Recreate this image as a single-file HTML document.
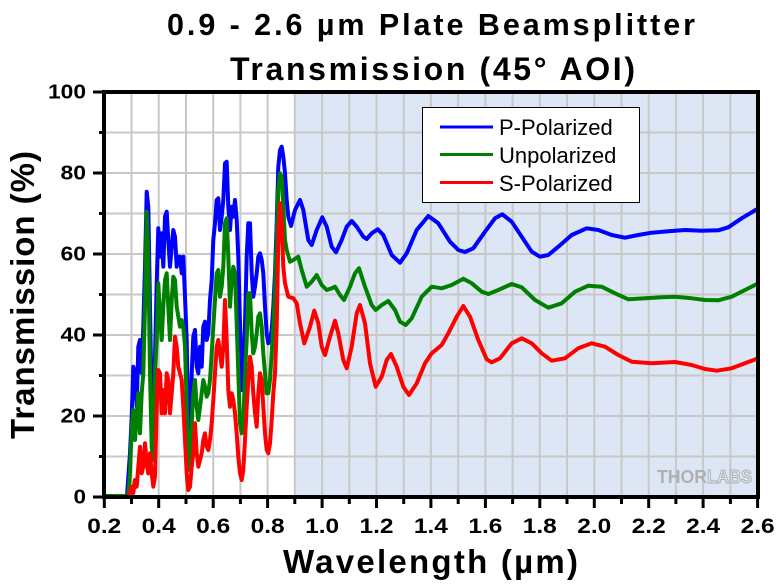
<!DOCTYPE html>
<html><head><meta charset="utf-8"><style>
html,body{margin:0;padding:0;background:#fff;}
svg{display:block;}
text{font-family:"Liberation Sans",Arial,sans-serif;}
</style></head><body>
<svg width="780" height="584" viewBox="0 0 780 584" xmlns="http://www.w3.org/2000/svg">
<defs><clipPath id="pc"><rect x="104" y="92" width="654" height="405"/></clipPath></defs>
<rect x="0" y="0" width="780" height="584" fill="#fff"/>
<rect x="294.8" y="92" width="463.2" height="405" fill="#dce6f5"/>
<g stroke="#c8c8c8" stroke-width="2">
<line x1="131.5" y1="92" x2="131.5" y2="497"/><line x1="158.7" y1="92" x2="158.7" y2="497"/><line x1="186" y1="92" x2="186" y2="497"/><line x1="213.2" y1="92" x2="213.2" y2="497"/><line x1="240.4" y1="92" x2="240.4" y2="497"/><line x1="267.6" y1="92" x2="267.6" y2="497"/><line x1="294.8" y1="92" x2="294.8" y2="497"/><line x1="322.1" y1="92" x2="322.1" y2="497"/><line x1="349.3" y1="92" x2="349.3" y2="497"/><line x1="376.5" y1="92" x2="376.5" y2="497"/><line x1="403.7" y1="92" x2="403.7" y2="497"/><line x1="430.9" y1="92" x2="430.9" y2="497"/><line x1="458.2" y1="92" x2="458.2" y2="497"/><line x1="485.4" y1="92" x2="485.4" y2="497"/><line x1="512.6" y1="92" x2="512.6" y2="497"/><line x1="539.8" y1="92" x2="539.8" y2="497"/><line x1="567" y1="92" x2="567" y2="497"/><line x1="594.3" y1="92" x2="594.3" y2="497"/><line x1="621.5" y1="92" x2="621.5" y2="497"/><line x1="648.7" y1="92" x2="648.7" y2="497"/><line x1="675.9" y1="92" x2="675.9" y2="497"/><line x1="703.1" y1="92" x2="703.1" y2="497"/><line x1="730.4" y1="92" x2="730.4" y2="497"/>
<line x1="104" y1="456.5" x2="758" y2="456.5"/><line x1="104" y1="416" x2="758" y2="416"/><line x1="104" y1="375.5" x2="758" y2="375.5"/><line x1="104" y1="335" x2="758" y2="335"/><line x1="104" y1="294.5" x2="758" y2="294.5"/><line x1="104" y1="254" x2="758" y2="254"/><line x1="104" y1="213.5" x2="758" y2="213.5"/><line x1="104" y1="173" x2="758" y2="173"/><line x1="104" y1="132.5" x2="758" y2="132.5"/>
</g>
<text x="657" y="483" font-size="18" font-weight="bold" fill="#b0b0b0" textLength="50" lengthAdjust="spacingAndGlyphs">THOR</text>
<text x="707" y="483" font-size="18" font-weight="bold" fill="none" stroke="#b0b0b0" stroke-width="1" textLength="45" lengthAdjust="spacingAndGlyphs">LABS</text>
<g clip-path="url(#pc)" fill="none" stroke-width="4" stroke-linejoin="round" stroke-linecap="round">
<path stroke="#0000ff" d="M106,496 L127,496 L130,453 L131.7,416.7 L133.3,366.7 L135,373 L136.7,406.7 L138.3,346.7 L140,340 L141.7,373 L143.3,326.7 L145,266.7 L146.7,191.7 L148.3,206.7 L150,306.7 L151.7,406.7 L153.3,423 L155,356.7 L156.7,283.3 L158.3,228.3 L160,256.7 L161.7,233.3 L163.3,266.7 L165,216.7 L166.7,211.7 L168.3,240 L170,266.7 L171.7,246.7 L173.3,230 L175,236.7 L176.7,266.7 L178.3,256.7 L180,256.7 L181.7,273.3 L183.3,256.7 L185,296.7 L186.7,340 L188.3,433.3 L190,440 L191.7,373.3 L193.3,336.7 L195,330 L196.7,366.7 L198.3,373.3 L200,346.7 L201.7,366.7 L203.3,326.7 L205,321.7 L206.7,340 L208.3,333.3 L210,300 L211.7,280 L213.3,240 L215,223.3 L216.7,200 L218.3,198.3 L220,230 L221.7,216.7 L223.3,200 L225,163.3 L226.7,161.7 L228.3,206.7 L230,230 L231.7,206.7 L233.3,216.7 L235,200 L236.7,220 L238.3,256.7 L240,323.3 L241.7,390 L243.3,373.3 L245,323.3 L246.7,256.7 L248.3,223.3 L250,223.3 L251.7,273.3 L253.3,296.7 L255,286.7 L256.7,273.3 L258.3,256.7 L260,253.3 L261.7,260 L263.3,273.3 L265,306.7 L266.7,333.3 L268.3,343.3 L270,340 L271.7,330 L273.3,306.7 L275,273.3 L276.7,223.3 L278.3,166.7 L280,150 L281.7,146.7 L283.3,156.7 L285,173.3 L286.7,200 L288.3,216.7 L291,226 L295,210 L300,200 L303.3,210 L308.3,240 L311.7,245 L316.7,230 L322.3,217.3 L326.7,226.7 L331.7,246.7 L336,252.3 L341.7,240 L346.7,226.7 L351.7,221 L356.7,226.7 L363.3,236.7 L366.7,239 L371.7,233.3 L377.7,229.3 L383.3,235 L391.7,255 L400,262.7 L406.7,253.3 L416.7,230 L428.3,216 L438.3,223.3 L450,241.7 L458.3,250 L465,252 L473.3,248.3 L485,231.7 L495,218.3 L502.3,214.3 L511.7,221.7 L521.7,236.7 L531.7,251.7 L540,256.7 L548.3,255 L558.3,246.7 L571.7,235 L586.7,228.3 L598.3,230 L611.7,235 L625,237.7 L638.3,235 L651.7,232.7 L668.3,231.3 L685,230 L701.7,230.7 L718.3,230.3 L728.3,227.3 L741.7,218.3 L758.3,208.3"/>
<path stroke="#008000" d="M106,496 L128.3,496 L130,473 L131.7,430 L133.3,410 L135,440 L136.7,416.7 L138.3,393.3 L140,433.3 L141.7,393.3 L143.3,373.3 L145,306.7 L146.7,211.7 L148.3,256.7 L150,373.3 L151.7,446.7 L153.3,460 L155,373.3 L156.7,340 L158.3,283.3 L160,313.3 L161.7,340 L163.3,306.7 L165,280 L166.7,273.3 L168.3,306.7 L170,340 L171.7,300 L173.3,276.7 L175,280 L176.7,306.7 L178.3,316.7 L180,326.7 L181.7,320 L183.3,326.7 L185,346.7 L186.7,406.7 L188.3,470 L190,466.7 L191.7,423.3 L193.3,393.3 L195,380 L196.7,406.7 L198.3,420 L200,406.7 L201.7,393.3 L203.3,380 L205,386.7 L206.7,396.7 L208.3,393.3 L210,380 L211.7,353.3 L213.3,326.7 L215,300 L216.7,273.3 L218.3,270 L220,296.7 L221.7,286.7 L223.3,266.7 L225,223.3 L226.7,218.3 L228.3,256.7 L230,306.7 L231.7,280 L233.3,266.7 L235,273.3 L236.7,323.3 L238.3,373.3 L240,423.3 L241.7,433.3 L243.3,423.3 L245,373.3 L246.7,340 L248.3,293.3 L250,293.3 L251.7,333.3 L253.3,353.3 L255,346.7 L256.7,333.3 L258.3,316.7 L260,313.3 L261.7,326.7 L263.3,353.3 L265,373.3 L266.7,393.3 L268.3,393.3 L270,380 L271.7,353.3 L273.3,326.7 L275,290 L276.7,240 L278.3,190 L280,173.3 L281.7,176.7 L283.3,206.7 L285,240 L286.7,250 L290,261.7 L293.3,260 L298.3,256.7 L301.7,270 L306.7,286.7 L311.7,281.7 L316.7,275 L321.7,285 L326.7,290 L331.7,288.3 L335,286.7 L340,295 L344,300 L350,286.7 L355,273.3 L359,268.3 L365,286.7 L371.7,305 L375.7,310 L381.7,305 L388.3,301 L395,310 L400,321.7 L405.7,325 L411.7,318.3 L421.7,296.7 L431.7,286.7 L441.7,288.3 L451.7,285 L463.3,278.7 L471.7,283.3 L481.7,291.7 L488.3,294 L498.3,290 L511.7,284 L521.7,287.3 L535,300 L548.3,307.7 L561.7,303.3 L575,291.7 L588.3,285.7 L601.7,286.7 L615,293.3 L628.3,299.3 L645,298.3 L661.7,297.3 L675,296.7 L691.7,298.3 L705,300 L718.3,300.3 L731.7,296.7 L745,290 L758.3,283.3"/>
<path stroke="#ff0000" d="M128,496 L130,493.3 L131.7,486.7 L133.3,493 L135,480 L136.7,486.7 L138.3,466.7 L140,446.7 L141.7,473.3 L143.3,466.7 L145,443.3 L146.7,463.3 L148.3,473.3 L150,453.3 L151.7,473.3 L153.3,486.7 L155,476.7 L156.7,406.7 L158.3,370 L160,373.3 L161.7,413.3 L163.3,390 L165,413.3 L166.7,373.3 L168.3,380 L170,413.3 L171.7,393.3 L173.3,373.3 L175,336.7 L176.7,346.7 L178.3,366.7 L180,373.3 L181.7,380 L183.3,406.7 L185,440 L186.7,473.3 L188.3,490 L190,486.7 L191.7,466.7 L193.3,453.3 L195,423.3 L196.7,453.3 L198.3,466.7 L200,460 L201.7,453.3 L203.3,440 L205,433.3 L206.7,446.7 L208.3,450 L210,440 L211.7,423.3 L213.3,400 L215,373.3 L216.7,346.7 L218.3,340 L220,353.3 L221.7,366.7 L223.3,346.7 L225,300 L226.7,340 L228.3,390 L230,406.7 L231.7,393.3 L233.3,400 L235,413.3 L236.7,433.3 L238.3,456.7 L240,473.3 L241.7,480 L243.3,470 L245,440 L246.7,406.7 L248.3,380 L250,356.7 L251.7,366.7 L253.3,393.3 L255,413.3 L256.7,426.7 L258.3,393.3 L260,373.3 L261.7,380 L263.3,406.7 L265,433.3 L266.7,450 L268.3,453.3 L270,443.3 L271.7,420 L273.3,393.3 L275,373.3 L276.7,326.7 L278.3,240 L280,203.3 L281.7,223.3 L283.3,266.7 L285,283.3 L288.3,296.7 L293.3,298.3 L296.7,303.3 L300,323.3 L304.3,343.3 L310,326.7 L314.3,310.7 L318.3,323.3 L321.7,346.7 L325,355 L330,336.7 L335,320.7 L338.3,333.3 L343.3,360 L346.7,368.3 L351.7,346.7 L356.7,313.3 L360,305 L365,323.3 L370,363.3 L375.7,386.7 L381.7,376.7 L386.7,360 L391,354 L396.7,366.7 L403.3,386.7 L409,395 L416.7,383.3 L425,363.3 L431.7,353.3 L441.7,345 L448.3,333.3 L456.7,316.7 L463.3,306 L470,316.7 L478.3,340 L486.7,359.3 L491.7,362.3 L500,358.3 L511.7,343.3 L521.7,338.3 L531.7,343.3 L541.7,353.3 L551.7,360.7 L565,358.3 L578.3,348.3 L591.7,343.3 L605,346.7 L618.3,355 L631.7,361.7 L651.7,363.3 L675,362 L691.7,365 L705,369 L716.7,370.7 L731.7,368.3 L745,363.3 L758.3,358.3"/>
</g>
<rect x="422.5" y="107.5" width="217" height="95" fill="#fff" stroke="#000" stroke-width="1"/>
<line x1="440" y1="127" x2="493" y2="127" stroke="#0000ff" stroke-width="3"/>
<line x1="440" y1="154.5" x2="493" y2="154.5" stroke="#008000" stroke-width="3"/>
<line x1="440" y1="182.5" x2="493" y2="182.5" stroke="#ff0000" stroke-width="3"/>
<text x="499" y="135" font-size="22" fill="#000">P-Polarized</text>
<text x="499" y="163" font-size="22" fill="#000">Unpolarized</text>
<text x="499" y="191" font-size="22" fill="#000">S-Polarized</text>
<rect x="104" y="92" width="654" height="405" fill="none" stroke="#000" stroke-width="4"/>
<g stroke="#000" stroke-width="3">
<line x1="93" y1="497" x2="104" y2="497"/><line x1="93" y1="416" x2="104" y2="416"/><line x1="93" y1="335" x2="104" y2="335"/><line x1="93" y1="254" x2="104" y2="254"/><line x1="93" y1="173" x2="104" y2="173"/><line x1="93" y1="92" x2="104" y2="92"/>
<line x1="99" y1="456.5" x2="104" y2="456.5"/><line x1="99" y1="375.5" x2="104" y2="375.5"/><line x1="99" y1="294.5" x2="104" y2="294.5"/><line x1="99" y1="213.5" x2="104" y2="213.5"/><line x1="99" y1="132.5" x2="104" y2="132.5"/>
<line x1="104.3" y1="497" x2="104.3" y2="508"/><line x1="158.7" y1="497" x2="158.7" y2="508"/><line x1="213.2" y1="497" x2="213.2" y2="508"/><line x1="267.6" y1="497" x2="267.6" y2="508"/><line x1="322.1" y1="497" x2="322.1" y2="508"/><line x1="376.5" y1="497" x2="376.5" y2="508"/><line x1="430.9" y1="497" x2="430.9" y2="508"/><line x1="485.4" y1="497" x2="485.4" y2="508"/><line x1="539.8" y1="497" x2="539.8" y2="508"/><line x1="594.3" y1="497" x2="594.3" y2="508"/><line x1="648.7" y1="497" x2="648.7" y2="508"/><line x1="703.1" y1="497" x2="703.1" y2="508"/><line x1="757.6" y1="497" x2="757.6" y2="508"/>
<line x1="131.5" y1="497" x2="131.5" y2="504"/><line x1="186" y1="497" x2="186" y2="504"/><line x1="240.4" y1="497" x2="240.4" y2="504"/><line x1="294.8" y1="497" x2="294.8" y2="504"/><line x1="349.3" y1="497" x2="349.3" y2="504"/><line x1="403.7" y1="497" x2="403.7" y2="504"/><line x1="458.2" y1="497" x2="458.2" y2="504"/><line x1="512.6" y1="497" x2="512.6" y2="504"/><line x1="567" y1="497" x2="567" y2="504"/><line x1="621.5" y1="497" x2="621.5" y2="504"/><line x1="675.9" y1="497" x2="675.9" y2="504"/><line x1="730.4" y1="497" x2="730.4" y2="504"/>
</g>
<g font-size="20" font-weight="bold" fill="#000" text-anchor="end">
<text x="86" y="98.5" textLength="38" lengthAdjust="spacingAndGlyphs">100</text>
<text x="86" y="179.5" textLength="25.5" lengthAdjust="spacingAndGlyphs">80</text>
<text x="86" y="260.5" textLength="25.5" lengthAdjust="spacingAndGlyphs">60</text>
<text x="86" y="341.5" textLength="25.5" lengthAdjust="spacingAndGlyphs">40</text>
<text x="86" y="422.5" textLength="25.5" lengthAdjust="spacingAndGlyphs">20</text>
<text x="86" y="503.5" textLength="12.5" lengthAdjust="spacingAndGlyphs">0</text>
</g>
<g font-size="21" font-weight="bold" fill="#000" text-anchor="middle">
<text x="104.3" y="533" textLength="34" lengthAdjust="spacingAndGlyphs">0.2</text>
<text x="158.7" y="533" textLength="34" lengthAdjust="spacingAndGlyphs">0.4</text>
<text x="213.2" y="533" textLength="34" lengthAdjust="spacingAndGlyphs">0.6</text>
<text x="267.6" y="533" textLength="34" lengthAdjust="spacingAndGlyphs">0.8</text>
<text x="322.1" y="533" textLength="34" lengthAdjust="spacingAndGlyphs">1.0</text>
<text x="376.5" y="533" textLength="34" lengthAdjust="spacingAndGlyphs">1.2</text>
<text x="430.9" y="533" textLength="34" lengthAdjust="spacingAndGlyphs">1.4</text>
<text x="485.4" y="533" textLength="34" lengthAdjust="spacingAndGlyphs">1.6</text>
<text x="539.8" y="533" textLength="34" lengthAdjust="spacingAndGlyphs">1.8</text>
<text x="594.3" y="533" textLength="34" lengthAdjust="spacingAndGlyphs">2.0</text>
<text x="648.7" y="533" textLength="34" lengthAdjust="spacingAndGlyphs">2.2</text>
<text x="703.1" y="533" textLength="34" lengthAdjust="spacingAndGlyphs">2.4</text>
<text x="757.6" y="533" textLength="34" lengthAdjust="spacingAndGlyphs">2.6</text>
</g>
<text x="430.5" y="573" font-size="33" font-weight="bold" text-anchor="middle" textLength="295" lengthAdjust="spacing">Wavelength (µm)</text>
<text transform="translate(34,295) rotate(-90)" x="0" y="0" font-size="33" font-weight="bold" text-anchor="middle" textLength="288" lengthAdjust="spacing">Transmission (%)</text>
<text x="431" y="35" font-size="30.5" font-weight="bold" text-anchor="middle" textLength="528" lengthAdjust="spacing">0.9 - 2.6 µm Plate Beamsplitter</text>
<text x="432.5" y="80" font-size="32" font-weight="bold" text-anchor="middle" textLength="405" lengthAdjust="spacing">Transmission (45° AOI)</text>
</svg>
</body></html>
